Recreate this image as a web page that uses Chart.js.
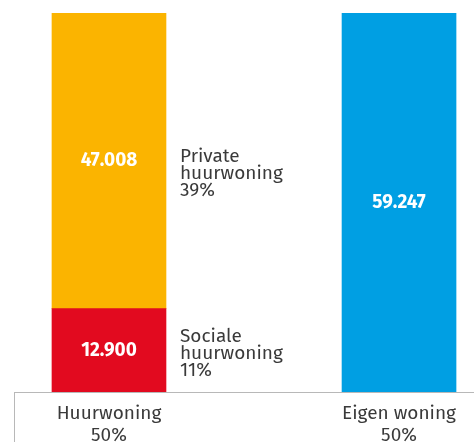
<!DOCTYPE html>
<html>
<head>
<meta charset="utf-8">
<script src="https://cdn.jsdelivr.net/npm/chart.js@4/dist/chart.umd.min.js"></script>
<style>
  body { margin: 0; background: #fff; }
</style>
</head>
<body>
<canvas id="chart" width="474" height="442"></canvas>
<script>
// woningen: huur vs eigen
const categories = ['Huurwoning', 'Eigen woning'];
const categoryShares = ['50%', '50%'];

const seriesNames = ['Sociale huurwoning', 'Private huurwoning', 'Eigen woning'];
const seriesCategory = [0, 0, 1];
const seriesShares = [11, 39, 50];      // bar heights in %
const seriesCounts = [12900, 47008, 59247];
const sideLabels = [['Sociale', 'huurwoning', '11%'], ['Private', 'huurwoning', '39%'], null];

const colors = ['#e20a1f', '#fbb400', '#009fe3'];
const textColor = '#3a3a3a';
const axisColor = '#b8b8b8';
const fontFamily = "'Fira Sans', 'Open Sans', sans-serif";

const gap = 2;         // distance between the two columns on the x scale
const xMin = -0.655;
const xMax = 2.517;

function fmt(n) {
  return String(n).replace(/\B(?=(\d{3})+(?!\d))/g, '.');
}

const datasets = seriesNames.map((name, i) => ({
  label: name,
  data: [{ x: seriesCategory[i] * gap, y: seriesShares[i] }],
  backgroundColor: colors[i],
  barThickness: 114,
  borderWidth: 0
}));

const labelPlugin = {
  id: 'barLabels',
  afterDatasetsDraw(chart) {
    const ctx = chart.ctx;
    const offsets = [9, 18];
    ctx.save();
    chart.data.datasets.forEach((ds, i) => {
      const bar = chart.getDatasetMeta(i).data[0];
      const mid = (bar.y + bar.base) / 2;

      ctx.fillStyle = '#fff';
      ctx.font = 'bold 19px ' + fontFamily;
      ctx.textAlign = 'center';
      ctx.textBaseline = 'middle';
      ctx.fillText(fmt(seriesCounts[i]), bar.x, mid);

      const lines = sideLabels[i];
      if (lines) {
        ctx.fillStyle = textColor;
        ctx.font = '19px ' + fontFamily;
        ctx.textAlign = 'left';
        ctx.textBaseline = 'alphabetic';
        const x = bar.x + bar.width / 2 + 14;
        lines.forEach((t, k) => {
          ctx.fillText(t, x, mid + offsets[i] + (k - 1) * 17);
        });
      }
    });
    ctx.restore();
  }
};

new Chart(document.getElementById('chart'), {
  type: 'bar',
  data: { datasets },
  options: {
    responsive: false,
    animation: false,
    devicePixelRatio: 1,
    layout: { padding: { top: 13, left: 14, right: 0, bottom: 0 } },
    plugins: {
      legend: { display: false },
      tooltip: { enabled: false }
    },
    scales: {
      x: {
        type: 'linear',
        stacked: true,
        offset: false,
        min: xMin,
        max: xMax,
        afterBuildTicks(scale) {
          scale.ticks = [{ value: xMin }].concat(categories.map((c, i) => ({ value: i * gap })));
        },
        afterFit(scale) {
          scale.height = 50;
        },
        grid: {
          offset: false,
          drawOnChartArea: false,
          tickLength: 50,
          color: (c) => (c.index === 0 ? axisColor : 'rgba(0,0,0,0)')
        },
        border: { color: axisColor, width: 1 },
        ticks: {
          padding: -40,
          color: textColor,
          font: { family: fontFamily, size: 19, lineHeight: 1.2 },
          maxRotation: 0,
          autoSkip: false,
          callback(value) {
            const i = Math.round(value / gap);
            if (value < 0 || !categories[i]) return '';
            return [categories[i], categoryShares[i]];
          }
        }
      },
      y: {
        display: false,
        stacked: true,
        min: 0,
        max: 50
      }
    }
  },
  plugins: [labelPlugin]
});
</script>
</body>
</html>
